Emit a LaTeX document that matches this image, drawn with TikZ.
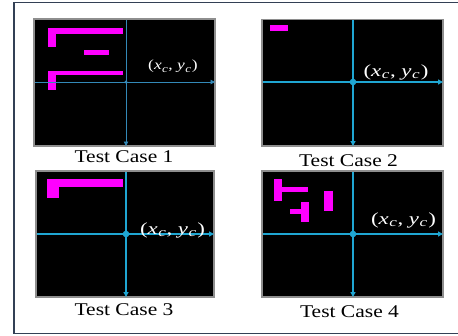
\documentclass[tikz,border=0pt]{standalone}
\usepackage{fontspec}
\setmainfont{Liberation Serif}
\usetikzlibrary{arrows.meta}
\definecolor{framecol}{HTML}{334055}
\definecolor{axiscol}{HTML}{1FA6D2}
\definecolor{axisdim}{HTML}{3389B8}
\definecolor{blockcol}{HTML}{FF00FF}
\definecolor{edgecol}{HTML}{8E8E8E}
\tikzset{
  screen/.style={fill=black, draw=edgecol, line width=1.3bp},
  axis/.style={draw=axiscol, line width=1.2bp, -{Triangle[length=5bp,width=5bp]}},
  axisthin/.style={draw=axisdim, line width=0.9bp, -{Triangle[length=4.5bp,width=4.5bp]}},
  block/.style={fill=blockcol},
  caption/.style={inner sep=0pt, font=\fontsize{18}{18}\selectfont},
  centre/.style={text=white, inner sep=0pt},
}
\newcommand{\capt}[1]{\scalebox{1.2}[1]{#1}}
% centre point label: italic letters with lowered subscripts
\newcommand{\sub}[1]{\raisebox{-0.16em}{\fontsize{0.75em}{0.75em}\selectfont\textit{#1}}}
\newcommand{\xcyc}[2]{\scalebox{#1}[1]{\fontsize{#2}{#2}\selectfont(\textit{x}\kern0.02em\sub{c}\kern0.03em,\kern0.25em\textit{y}\kern0.02em\sub{c}\kern0.05em)}}
\begin{document}
\begin{tikzpicture}[x=1bp,y=-1bp]
\useasboundingbox (0,0) rectangle (458,335);
\fill[white] (0,0) rectangle (458,335);
% outer frame
\draw[framecol, line width=1.2bp] (457.5,2.5) -- (14,2.5) -- (14,333.5) -- (457.5,333.5);

% ---------- screen 1 ----------
\draw[screen] (34,19) rectangle (215,146);
\coordinate (c1) at (126,82);
\coordinate (l1) at (34.7,82);
\coordinate (r1) at (215,82);
\coordinate (t1) at (126,19.7);
\coordinate (b1) at (126,146);
\fill[block] (48,28) rectangle (123,34);
\fill[block] (48,28) rectangle (56,47);
\fill[block] (84,50) rectangle (109,55);
\fill[block] (48,71) rectangle (123,75);
\fill[block] (48,71) rectangle (56,90);
\draw[axisthin] (l1) -- (r1);
\draw[axisthin] (t1) -- (b1);
\fill[axisdim] (c1) circle (1.6bp);
\node[centre] (p1) at (173,66.5) {\xcyc{1.25}{14}};
\node[caption] (cap1) at (124,157) {\capt{Test Case 1}};

% ---------- screen 2 ----------
\draw[screen] (262,19.5) rectangle (443,146);
\coordinate (c2) at (353,82);
\coordinate (l2) at (262.7,82);
\coordinate (r2) at (443,82);
\coordinate (t2) at (353,20.2);
\coordinate (b2) at (353,146);
\fill[block] (270,25) rectangle (288,31);
\draw[axis] (l2) -- (r2);
\draw[axis] (t2) -- (b2);
\fill[axiscol] (c2) circle (3.3bp);
\node[centre] (p2) at (396,72) {\xcyc{1.35}{17}};
\node[caption] (cap2) at (348.5,161) {\capt{Test Case 2}};

% ---------- screen 3 ----------
\draw[screen] (36,171) rectangle (214,297);
\coordinate (c3) at (126,234);
\coordinate (l3) at (36.7,234);
\coordinate (r3) at (214,234);
\coordinate (t3) at (126,171.7);
\coordinate (b3) at (126,297);
\fill[block] (47,179) rectangle (123,187);
\fill[block] (47,179) rectangle (59,198);
\draw[axis] (l3) -- (r3);
\draw[axis] (t3) -- (b3);
\fill[axiscol] (c3) circle (3.3bp);
\node[centre] (p3) at (172.5,230) {\xcyc{1.35}{17}};
\node[caption] (cap3) at (124,310) {\capt{Test Case 3}};

% ---------- screen 4 ----------
\draw[screen] (262,171) rectangle (443,297);
\coordinate (c4) at (353,234);
\coordinate (l4) at (262.7,234);
\coordinate (r4) at (443,234);
\coordinate (t4) at (353,171.7);
\coordinate (b4) at (353,297);
\fill[block] (274.3,179.3) rectangle (281.7,200.7);
\fill[block] (281.7,187.3) rectangle (308.3,192);
\fill[block] (324,191) rectangle (332.7,210.7);
\fill[block] (300.7,201.7) rectangle (309.3,221.7);
\fill[block] (290,209) rectangle (300.7,214);
\draw[axis] (l4) -- (r4);
\draw[axis] (t4) -- (b4);
\fill[axiscol] (c4) circle (3.3bp);
\node[centre] (p4) at (403.5,220) {\xcyc{1.35}{17}};
\node[caption] (cap4) at (349.5,312) {\capt{Test Case 4}};
\end{tikzpicture}
\end{document}
